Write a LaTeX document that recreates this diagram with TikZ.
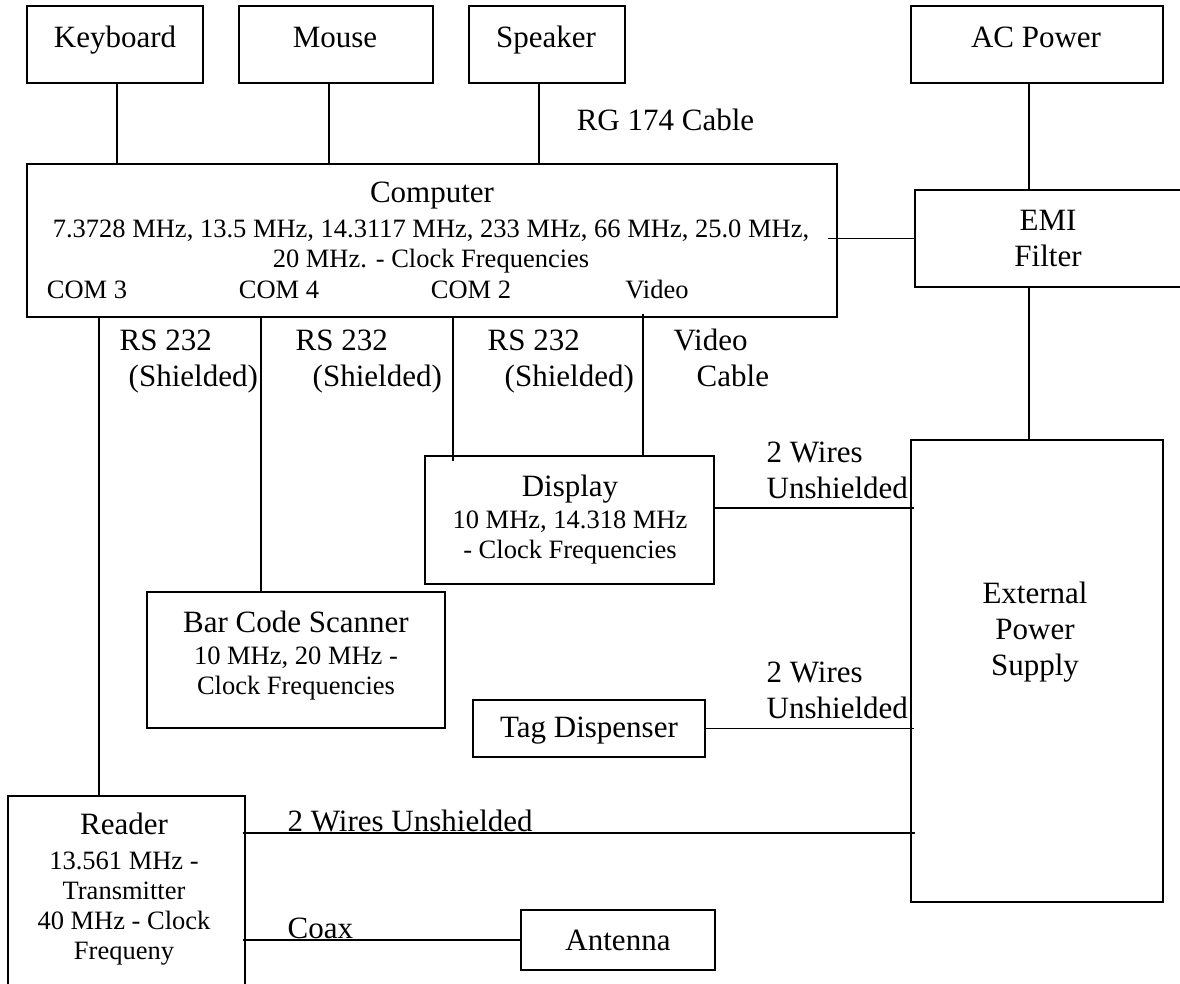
\documentclass[tikz,border=0pt]{standalone}
\usepackage{fontspec}
\setmainfont{Liberation Serif}
\newcommand{\bigtxt}{\fontsize{31}{36}\selectfont}
\newcommand{\smtxt}{\fontsize{26.5}{30}\selectfont}

\begin{document}
\begin{tikzpicture}[x=1pt, y=-1pt, line width=1.4pt,
    unit/.style={draw, inner sep=0},
    txt/.style={inner sep=0, font=\bigtxt, align=center},
    sm/.style={inner sep=0, font=\smtxt, align=center},
    lbl/.style={inner sep=0, font=\bigtxt, align=left, anchor=north west}]
    \useasboundingbox (0,0) rectangle (1180,983);
    \clip (0,0) rectangle (1180,983);

    \node[unit, minimum width=176pt, minimum height=77pt] (kbd) at (115,44.5) {};
    \node[txt, anchor=base] (kbdt) at (115,47) {Keyboard};
    \node[unit, minimum width=194pt, minimum height=77pt] (mouse) at (336,44.5) {};
    \node[txt, anchor=base] (mouset) at (335,47) {Mouse};
    \node[unit, minimum width=156pt, minimum height=77pt] (spk) at (547,44.5) {};
    \node[txt, anchor=base] (spkt) at (546,47) {Speaker};
    \node[unit, minimum width=252pt, minimum height=77pt] (acp) at (1037,44.5) {};
    \node[txt, anchor=base] (acpt) at (1036,47) {AC Power};

    \node[unit, minimum width=810pt, minimum height=153pt] (comp) at (432,240.5) {};
    \node[txt, anchor=base] (compt) at (432,202) {Computer};
    \node[sm, anchor=north] (compf) at (431,219) {7.3728 MHz, 13.5 MHz, 14.3117 MHz, 233 MHz, 66 MHz, 25.0 MHz,\\20 MHz. - Clock Frequencies};
    \node[sm, anchor=base] (com3) at (87,298) {COM 3};
    \node[sm, anchor=base] (com4) at (279,298) {COM 4};
    \node[sm, anchor=base] (com2) at (471,298) {COM 2};
    \node[sm, anchor=base] (vid) at (657,298) {Video};

    \node[unit, minimum width=267pt, minimum height=97pt] (emi) at (1048.5,238.5) {};
    \node[txt, anchor=north] (emit) at (1048,209) {EMI\\Filter};
    \node[unit, minimum width=252pt, minimum height=462pt] (eps) at (1037,671) {};
    \node[txt, anchor=north] (epst) at (1035,581) {External\\Power\\Supply};

    \node[unit, minimum width=289pt, minimum height=128pt] (disp) at (569.5,520) {};
    \node[txt, anchor=base] (dispt) at (570,496) {Display};
    \node[sm, anchor=north] (dispf) at (570,510) {10 MHz, 14.318 MHz\\- Clock Frequencies};

    \node[unit, minimum width=298pt, minimum height=136pt] (bcs) at (296,660) {};
    \node[txt, anchor=base] (bcst) at (296,632) {Bar Code Scanner};
    \node[sm, anchor=north] (bcsf) at (296,646) {10 MHz, 20 MHz -\\Clock Frequencies};

    \node[unit, minimum width=232pt, minimum height=57pt] (tag) at (589,728.5) {};
    \node[txt, anchor=base] (tagt) at (589,737) {Tag Dispenser};

    \node[unit, minimum width=237pt, minimum height=208pt] (rdr) at (126.5,900) {};
    \node[txt, anchor=base] (rdrt) at (124,834) {Reader};
    \node[sm, anchor=north] (rdrf) at (124,851) {13.561 MHz -\\Transmitter\\40 MHz - Clock\\Frequeny};

    \node[unit, minimum width=194pt, minimum height=60pt] (ant) at (618,940) {};
    \node[txt, anchor=base] (antt) at (618,950) {Antenna};

    % cable labels
    \node[txt, anchor=base] (rg) at (665.5,130) {RG 174 Cable};
    \node[lbl] (rs3) at (119,329) {RS 232\\\hspace*{9pt}(Shielded)};
    \node[lbl] (rs4) at (295,329) {RS 232\\\hspace*{17pt}(Shielded)};
    \node[lbl] (rs2) at (487,329) {RS 232\\\hspace*{17pt}(Shielded)};
    \node[lbl] (vcab) at (673,328) {Video\\\hspace*{23pt}Cable};
    \node[lbl] (w1) at (766,441) {2 Wires\\Unshielded};
    \node[lbl] (w2) at (766,661) {2 Wires\\Unshielded};
    \node[txt, anchor=base west] (w3) at (287,831) {2 Wires Unshielded};
    \node[txt, anchor=base west] (coax) at (287,938) {Coax};

    \draw ([xshift=2pt]kbd.south) -- ([xshift=2pt]kbd.south |- comp.north);
    \draw ([xshift=-7pt]mouse.south) -- ([xshift=-7pt]mouse.south |- comp.north);
    \draw ([xshift=-8pt]spk.south) -- ([xshift=-8pt]spk.south |- comp.north);
    \draw ([xshift=-8pt]acp.south) -- ([xshift=-8pt]acp.south |- emi.north);
    \draw ([xshift=-19.5pt]emi.south) -- ([xshift=-19.5pt]emi.south |- eps.north);
    \draw ([xshift=-10pt]comp.east |- emi.west) -- (emi.west);

    \draw ([xshift=-27.5pt]rdr.north |- comp.south) -- ([xshift=-27.5pt]rdr.north);
    \draw ([xshift=-35pt]bcs.north |- comp.south) -- ([xshift=-35pt]bcs.north);
    \draw ([xshift=-116.5pt]disp.north |- comp.south) -- ([xshift=-116.5pt,yshift=-6pt]disp.north);
    \draw ([xshift=73.5pt,yshift=4pt]disp.north |- comp.south) -- ([xshift=73.5pt]disp.north);

    \draw ([yshift=12pt]disp.east) -- ([yshift=12pt,xshift=4pt]disp.east -| eps.west);
    \draw (tag.east) -- ([xshift=4pt]tag.east -| eps.west);
    \draw ([xshift=-3pt,yshift=67pt]rdr.east) -- ([xshift=5pt,yshift=67pt]rdr.east -| eps.west);
    \draw ([xshift=-3pt]rdr.east |- ant.west) -- (ant.west);
\end{tikzpicture}
\end{document}
